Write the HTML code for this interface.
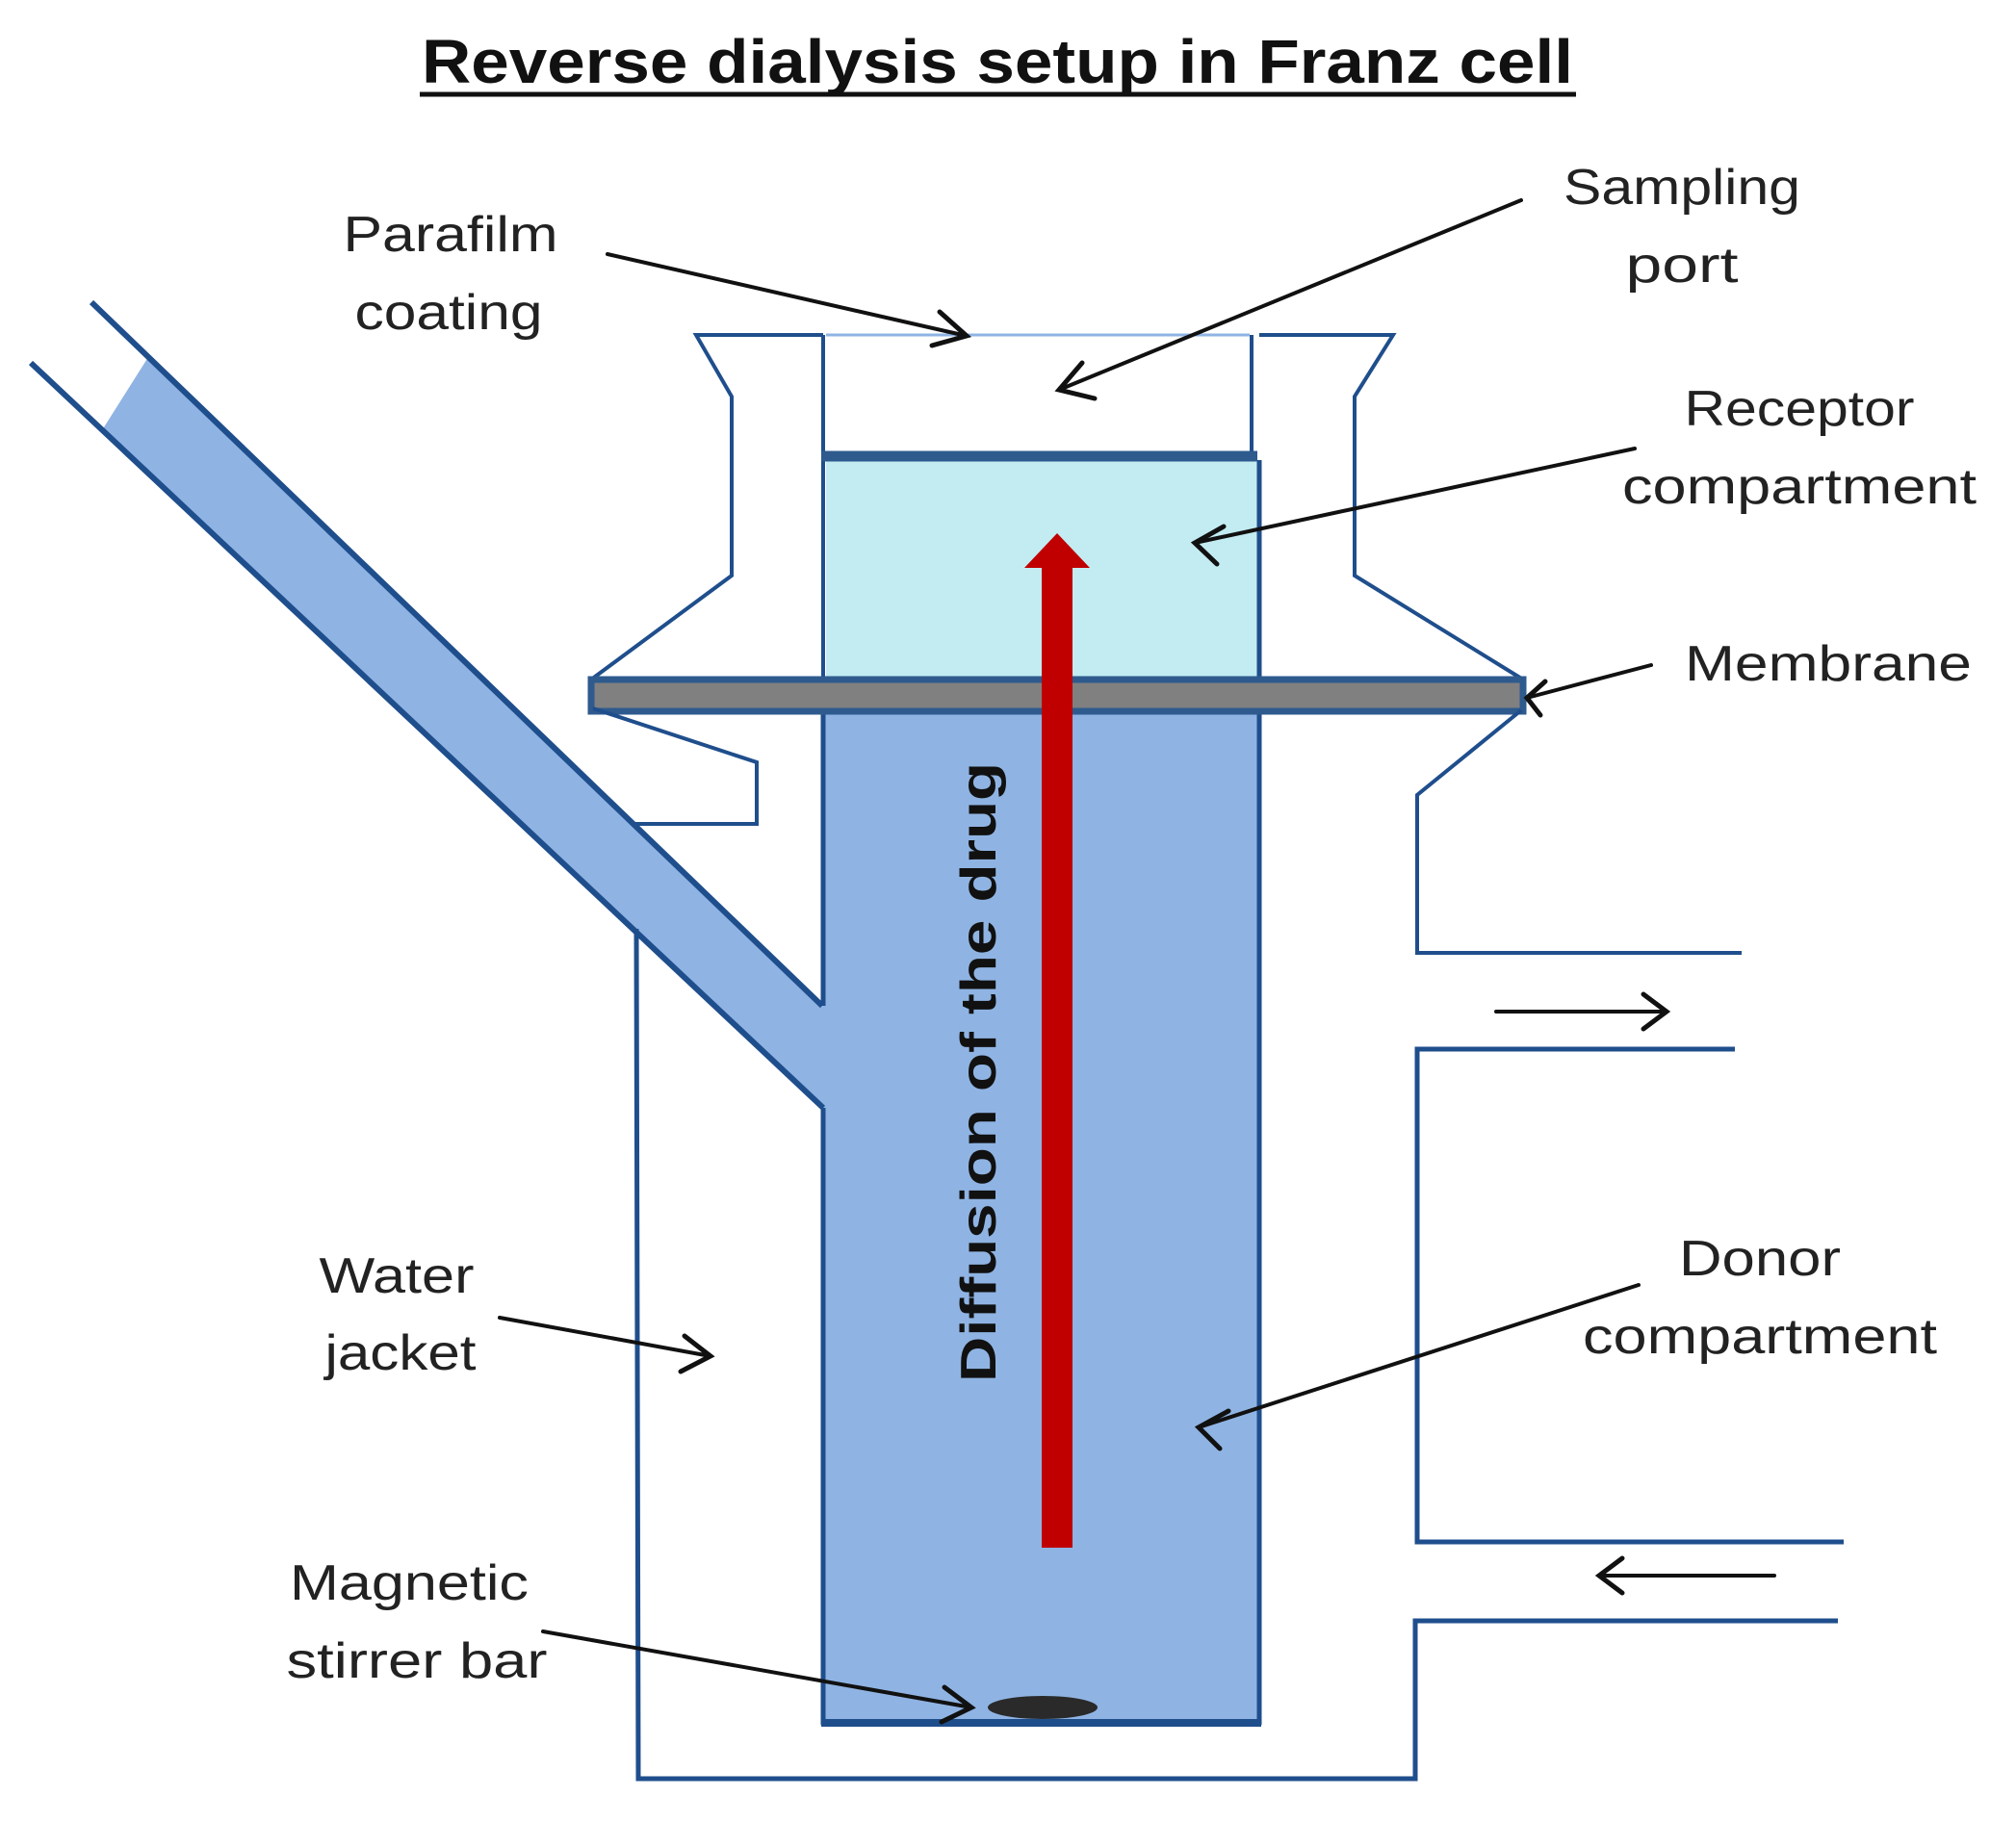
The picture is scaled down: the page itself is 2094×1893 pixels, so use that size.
<!DOCTYPE html>
<html><head><meta charset="utf-8"><style>html,body{margin:0;padding:0;background:#fff}svg{display:block}</style></head>
<body>
<svg width="2094" height="1893" viewBox="0 0 2094 1893" xmlns="http://www.w3.org/2000/svg" font-family="Liberation Sans, sans-serif">
<!-- title -->
<text x="1036" y="86" text-anchor="middle" font-size="64" font-weight="bold" fill="#111" textLength="1196" lengthAdjust="spacingAndGlyphs">Reverse dialysis setup in Franz cell</text>
<line x1="436" y1="98" x2="1637" y2="98" stroke="#111" stroke-width="5"/>

<g stroke="#1f4e8c" stroke-width="5" fill="none" stroke-linejoin="miter">
<!-- tube fill -->
<polygon points="154,371 855,1045 855,1151 106,447" fill="#8fb4e3" stroke="none"/>
<!-- donor fill -->
<rect x="855" y="738" width="453" height="1052" fill="#8fb4e3" stroke="none"/>
<!-- receptor fill -->
<rect x="858" y="478" width="450" height="226" fill="#c2ecf2" stroke="none"/>
<!-- tube lines -->
<line x1="95" y1="314" x2="854" y2="1045" stroke-width="6"/>
<line x1="32" y1="377" x2="855" y2="1151" stroke-width="6"/>
<!-- donor walls -->
<line x1="855" y1="738" x2="855" y2="1045"/>
<line x1="855" y1="1151" x2="855" y2="1792"/>
<line x1="1308" y1="478" x2="1308" y2="1792"/>
<line x1="853" y1="1790" x2="1310" y2="1790" stroke-width="8"/>
<!-- inner top walls -->
<line x1="855" y1="348" x2="855" y2="704" stroke-width="4"/>
<line x1="1300" y1="348" x2="1300" y2="474" stroke-width="4"/>
<line x1="853" y1="474" x2="1306" y2="474" stroke-width="11" stroke="#2e5a8e"/>
<line x1="858" y1="348" x2="1298" y2="348" stroke="#8fb4e3" stroke-width="3"/>
<!-- upper flanges -->
<polyline points="855,348 723,348 760,412 760,598 614,706" stroke-width="4"/>
<polyline points="1308,348 1447,348 1407,412 1407,598 1582,706" stroke-width="4"/>
<!-- membrane -->
<rect x="614" y="706" width="968" height="33" fill="#808080" stroke="#2e5a8e" stroke-width="7"/>
<!-- lower left ledge -->
<polyline points="616,736 786,792 786,856 660,856" stroke-width="4"/>
<!-- lower right -->
<polyline points="1580,738 1472,826 1472,990 1809,990" stroke-width="4"/>
<!-- jacket -->
<polyline points="661,965 663,1848 1470,1848 1470,1684 1909,1684" stroke-width="5"/>
<polyline points="1802,1090 1472,1090 1472,1602 1915,1602" stroke-width="5"/>
</g>
<!-- stirrer -->
<ellipse cx="1083" cy="1774" rx="57" ry="12" fill="#2a2a2a"/>
<!-- red arrow -->
<rect x="1082" y="588" width="32" height="1020" fill="#c00000"/>
<polygon points="1098,554 1132,590 1064,590" fill="#c00000"/>
<text transform="translate(1034,1114) rotate(-90)" text-anchor="middle" font-size="52" font-weight="bold" fill="#111" textLength="644" lengthAdjust="spacingAndGlyphs">Diffusion of the drug</text>

<!-- pointer arrows -->
<g stroke="#111" stroke-width="4" fill="none" stroke-linecap="round">
<line x1="631" y1="264" x2="1004" y2="349"/>
<line x1="1580" y1="208" x2="1100" y2="405"/>
<line x1="1698" y1="466" x2="1241" y2="564"/>
<line x1="1715" y1="691" x2="1586" y2="725"/>
<line x1="519" y1="1369" x2="738" y2="1409"/>
<line x1="1702" y1="1335" x2="1245" y2="1483"/>
<line x1="564" y1="1695" x2="1009" y2="1774"/>
<line x1="1554" y1="1051" x2="1731" y2="1051"/>
<line x1="1843" y1="1637" x2="1661" y2="1637"/>
</g>
<g stroke="#111" stroke-width="5" fill="none" stroke-linecap="round" stroke-linejoin="miter">
<polyline points="976,324 1004,349 968,359"/>
<polyline points="1137,414 1100,405 1124,377"/>
<polyline points="1264,586 1241,564 1271,547"/>
<polyline points="1600,743 1586,725 1605,708"/>
<polyline points="711,1388 738,1409 707,1425"/>
<polyline points="1267,1505 1245,1483 1276,1466"/>
<polyline points="981,1753 1009,1774 978,1789"/>
<polyline points="1707,1033 1731,1051 1707,1069"/>
<polyline points="1685,1619 1661,1637 1685,1655"/>
</g>

<!-- labels -->
<g font-size="52" fill="#222" text-anchor="middle" dominant-baseline="central">
<text x="468" y="244" textLength="223" lengthAdjust="spacingAndGlyphs">Parafilm</text>
<text x="466" y="325" textLength="195" lengthAdjust="spacingAndGlyphs">coating</text>
<text x="1747" y="195" textLength="246" lengthAdjust="spacingAndGlyphs">Sampling</text>
<text x="1747" y="276" textLength="117" lengthAdjust="spacingAndGlyphs">port</text>
<text x="1869" y="425" textLength="239" lengthAdjust="spacingAndGlyphs">Receptor</text>
<text x="1869" y="506" textLength="368" lengthAdjust="spacingAndGlyphs">compartment</text>
<text x="1899" y="690" textLength="298" lengthAdjust="spacingAndGlyphs">Membrane</text>
<text x="412" y="1326" textLength="161" lengthAdjust="spacingAndGlyphs">Water</text>
<text x="416" y="1406" textLength="157" lengthAdjust="spacingAndGlyphs">jacket</text>
<text x="1828" y="1308" textLength="168" lengthAdjust="spacingAndGlyphs">Donor</text>
<text x="1828" y="1389" textLength="368" lengthAdjust="spacingAndGlyphs">compartment</text>
<text x="425" y="1645" textLength="248" lengthAdjust="spacingAndGlyphs">Magnetic</text>
<text x="433" y="1726" textLength="271" lengthAdjust="spacingAndGlyphs">stirrer bar</text>
</g>
</svg>
</body></html>
